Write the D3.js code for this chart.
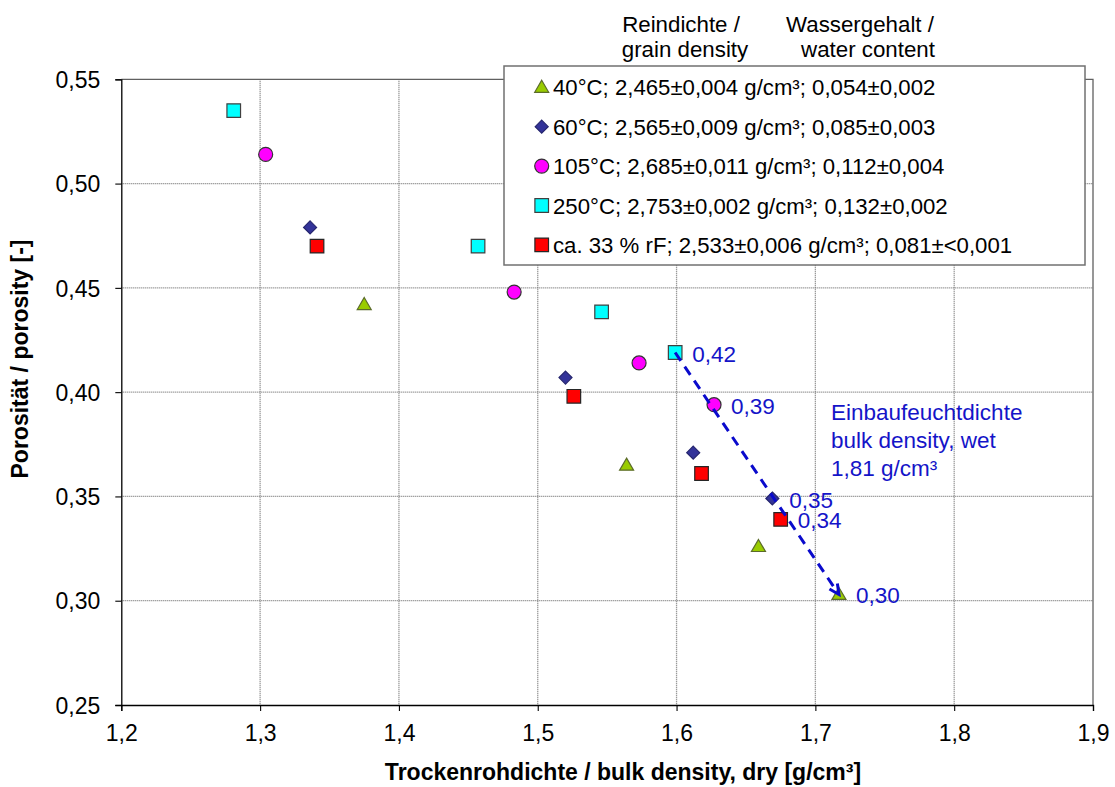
<!DOCTYPE html>
<html><head><meta charset="utf-8">
<script src="https://cdn.jsdelivr.net/npm/d3@7"></script>
<style>body{margin:0;background:#fff}svg{display:block;font-family:"Liberation Sans",Arial,sans-serif}</style>
</head><body><svg id="c" width="1115" height="787"></svg>
<script>
// ---- data ----
const xTicks = [1.2, 1.3, 1.4, 1.5, 1.6, 1.7, 1.8, 1.9];
const yTicks = [0.25, 0.30, 0.35, 0.40, 0.45, 0.50, 0.55];
const seriesNames = [
  "40°C; 2,465±0,004 g/cm³; 0,054±0,002",
  "60°C; 2,565±0,009 g/cm³; 0,085±0,003",
  "105°C; 2,685±0,011 g/cm³; 0,112±0,004",
  "250°C; 2,753±0,002 g/cm³; 0,132±0,002",
  "ca. 33 % rF; 2,533±0,006 g/cm³; 0,081±<0,001"
];
const s40x  = [1.375, 1.564, 1.659, 1.717];
const s40y  = [0.442, 0.365, 0.326, 0.303];
const s60x  = [1.336, 1.520, 1.612, 1.669];
const s60y  = [0.479, 0.407, 0.371, 0.349];
const s105x = [1.304, 1.483, 1.573, 1.627];
const s105y = [0.514, 0.448, 0.414, 0.394];
const s250x = [1.281, 1.457, 1.546, 1.599];
const s250y = [0.535, 0.470, 0.4385, 0.419];
const s33x  = [1.341, 1.526, 1.618, 1.675];
const s33y  = [0.470, 0.398, 0.361, 0.339];
const wetLabels = ["0,30", "0,35", "0,39", "0,42", "0,34"]; // last point of each series
const headerTexts = [["Reindichte /", "grain density"], ["Wassergehalt /", "water content"]];
const noteLines = ["Einbaufeuchtdichte", "bulk density, wet", "1,81 g/cm³"];
const xTitle = "Trockenrohdichte / bulk density, dry [g/cm³]";
const yTitle = "Porosität / porosity [-]";

// ---- styles ----
const styles = [
  {shape: "triangle", fill: "#99CC00", stroke: "#5b6b2a"},
  {shape: "diamond",  fill: "#333399", stroke: "#26266e"},
  {shape: "circle",   fill: "#FF00FF", stroke: "#333333"},
  {shape: "square",   fill: "#00FFFF", stroke: "#404040"},
  {shape: "square",   fill: "#FF0000", stroke: "#262626"}
];
const series = [[s40x, s40y], [s60x, s60y], [s105x, s105y], [s250x, s250y], [s33x, s33y]]
  .map((s, i) => ({name: seriesNames[i], style: styles[i],
    pts: s[0].map((x, j) => ({x, y: s[1][j]}))}));

function shapePath(t) {
  if (t === "triangle") return "M0,-7L7,5L-7,5Z";
  if (t === "diamond") return "M0,-6.5L6.5,0L0,6.5L-6.5,0Z";
  if (t === "circle") return d3.symbol(d3.symbolCircle, Math.PI * 49)();
  return "M-6.8,-6.8H6.8V6.8H-6.8Z";
}

const svg = d3.select("#c");
const L = 121.3, R = 1093, T = 79.3, B = 705;
const x = d3.scaleLinear().domain([1.2, 1.9]).range([L, R]);
const y = d3.scaleLinear().domain([0.25, 0.55]).range([B, T]);
const fmt = d => d3.format(".1f")(d).replace(".", ",");
const fmtY = d => d3.format(".2f")(d).replace(".", ",");

// gridlines
const g = svg.append("g");
g.selectAll("line.h").data(yTicks.filter(d => d > 0.25 && d < 0.55)).join("line")
  .attr("x1", L).attr("x2", R).attr("y1", d => y(d)).attr("y2", d => y(d))
  .attr("stroke", "#7a7a7a").attr("stroke-width", 1.3).attr("stroke-dasharray", "1,1");
g.selectAll("line.v").data(xTicks.filter(d => d > 1.2 && d < 1.9)).join("line")
  .attr("y1", T).attr("y2", B).attr("x1", d => x(d)).attr("x2", d => x(d))
  .attr("stroke", "#7a7a7a").attr("stroke-width", 1.3).attr("stroke-dasharray", "1,1");
// plot border top/right
svg.append("path").attr("d", `M${L},${T}H${R}V${B}`).attr("fill", "none")
  .attr("stroke", "#606060").attr("stroke-width", 1.3);

// axes
const xAxis = svg.append("g").attr("transform", `translate(0,${B})`)
  .call(d3.axisBottom(x).tickValues(xTicks).tickFormat(fmt).tickSize(6).tickPadding(14));
const yAxis = svg.append("g").attr("transform", `translate(${L},0)`)
  .call(d3.axisLeft(y).tickValues(yTicks).tickFormat(fmtY).tickSize(6).tickPadding(15));
[xAxis, yAxis].forEach(a => {
  a.selectAll("path.domain").attr("stroke", "#000").attr("stroke-width", 1.3);
  a.selectAll(".tick line").attr("stroke", "#000").attr("stroke-width", 1.1);
  a.selectAll("text").attr("font-size", 23).attr("fill", "#000")
    .attr("font-family", '"Liberation Sans",Arial,sans-serif');
});
xAxis.selectAll("text").attr("dy", "0.71em");
yAxis.selectAll("text").attr("dy", "0.36em");

// axis titles
svg.append("text").attr("x", 623).attr("y", 780).attr("text-anchor", "middle")
  .attr("font-size", 23).attr("font-weight", "bold").text(xTitle);
svg.append("text").attr("transform", "translate(28,359) rotate(-90)").attr("text-anchor", "middle")
  .attr("font-size", 23).attr("font-weight", "bold").text(yTitle);

// markers
series.forEach(s => {
  svg.append("g").selectAll("path").data(s.pts).join("path")
    .attr("transform", d => `translate(${x(d.x)},${y(d.y)})`)
    .attr("d", shapePath(s.style.shape))
    .attr("fill", s.style.fill).attr("stroke", s.style.stroke).attr("stroke-width", 1.2);
});

// dashed wet-density line (from 250°C last point to 40°C last point)
const startP = series[3].pts[3], endP = series[0].pts[3];
const x1 = x(startP.x), y1 = y(startP.y), x2 = x(endP.x), y2 = y(endP.y);
svg.append("line").attr("x1", x1).attr("y1", y1).attr("x2", x2).attr("y2", y2)
  .attr("stroke", "#0A0ACC").attr("stroke-width", 3).attr("stroke-dasharray", "10,7");
const ang = Math.atan2(y2 - y1, x2 - x1);
const ah = 11, aw = 0.45;
svg.append("path")
  .attr("d", `M${x2 - ah * Math.cos(ang - aw)},${y2 - ah * Math.sin(ang - aw)}L${x2},${y2}L${x2 - ah * Math.cos(ang + aw)},${y2 - ah * Math.sin(ang + aw)}`)
  .attr("fill", "none").attr("stroke", "#0A0ACC").attr("stroke-width", 3);

// point labels
series.forEach((s, i) => {
  const p = s.pts[s.pts.length - 1];
  svg.append("text").attr("x", x(p.x) + 17).attr("y", y(p.y) + 9)
    .attr("font-size", 22.5).attr("fill", "#1414C8").text(wetLabels[i]);
});

// annotation
svg.append("g").selectAll("text").data(noteLines).join("text")
  .attr("x", 831).attr("y", (d, i) => 420 + i * 28)
  .attr("font-size", 22.5).attr("fill", "#1414C8").text(d => d);

// header texts
const hx = [[681, 685], [860, 868]];
headerTexts.forEach((lines, i) => {
  lines.forEach((t, j) => {
    svg.append("text").attr("x", hx[i][j]).attr("y", 32 + j * 25)
      .attr("text-anchor", "middle").attr("font-size", 22.3).attr("fill", "#000").text(t);
  });
});

// legend
const lg = svg.append("g");
lg.append("rect").attr("x", 504).attr("y", 66).attr("width", 581).attr("height", 199)
  .attr("fill", "#fff").attr("stroke", "#707070").attr("stroke-width", 1.5);
series.forEach((s, i) => {
  const cy = 87.3 + i * 39.4;
  lg.append("path").attr("transform", `translate(541.7,${cy})`).attr("d", shapePath(s.style.shape))
    .attr("fill", s.style.fill).attr("stroke", s.style.stroke).attr("stroke-width", 1.2);
  lg.append("text").attr("x", 553).attr("y", cy + 8).attr("font-size", 22.2).attr("fill", "#000").text(s.name);
});
</script></body></html>
